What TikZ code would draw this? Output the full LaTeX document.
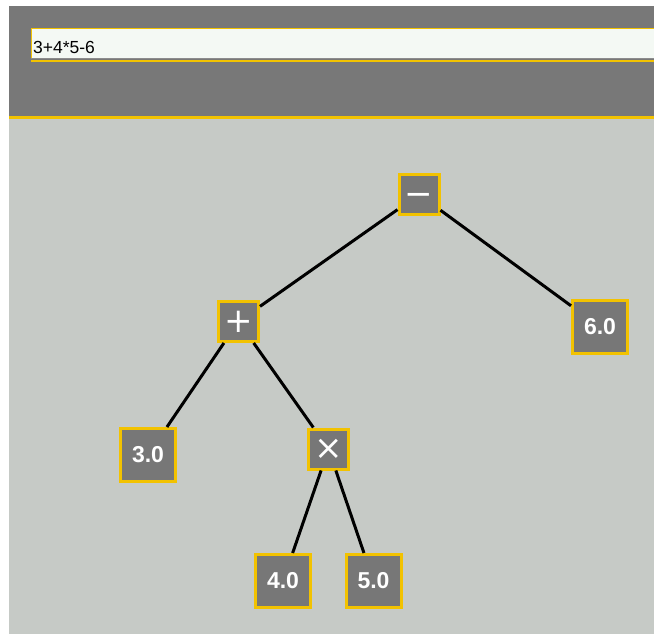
\documentclass[tikz,border=0pt]{standalone}
\usepackage{fontspec}
\setmainfont{Liberation Sans}
\newfontfamily\symf{DejaVu Sans}
\definecolor{hdr}{HTML}{787878}
\definecolor{bgc}{HTML}{C6CAC6}
\definecolor{ylw}{HTML}{F2C200}
\definecolor{fld}{HTML}{F4F9F4}
\definecolor{nodef}{HTML}{777777}
\tikzset{
  numbox/.style={draw=ylw, fill=nodef, line width=3pt, minimum width=55pt, minimum height=53pt, inner sep=0pt,
    text=white, font=\fontsize{23}{23}\selectfont\bfseries},
  opbox/.style={draw=ylw, fill=nodef, line width=3pt, minimum width=40pt, minimum height=40pt, inner sep=0pt,
    text=white, font=\symf\fontsize{34}{34}\selectfont},
  edge/.style={draw=black, line width=3pt}
}
\begin{document}
\begin{tikzpicture}[x=1pt,y=-1pt]
\useasboundingbox (0,0) rectangle (654,634);
\fill[white] (0,0) rectangle (654,634);
\fill[hdr] (9,6) rectangle (654,116);
\fill[ylw] (9,116) rectangle (654,119);
\fill[bgc] (9,119) rectangle (654,634);
% text field
\fill[fld] (31,28) rectangle (654,59);
\draw[ylw, line width=1.5pt] (31.5,59) |- (654,28.5);
\draw[black!45, line width=1pt] (31,58.5) -- (654,58.5);
\draw[ylw, line width=2pt] (31,61) -- (654,61);
\node[anchor=base west, inner sep=0pt, font=\fontsize{17.5}{17.5}\selectfont] (expr) at (33,53.5) {3+4*5-6};
% tree nodes
\node[opbox] (minus) at (419,194.5) {\vphantom{+}−};
\node[opbox] (plus) at (238.5,321.5) {+};
\node[opbox] (times) at (328.5,449) {\vphantom{+}×};
\node[numbox] (n6) at (600,327) {6.0};
\node[numbox] (n3) at (148,455) {3.0};
\node[numbox] (n4) at (283,581) {4.0};
\node[numbox] (n5) at (373.5,581) {5.0};
% edges
\draw[edge] (minus) -- (plus);
\draw[edge] (minus) -- (n6);
\draw[edge] (plus) -- (n3);
\draw[edge] (plus) -- (times);
\draw[edge] (times) -- (n4);
\draw[edge] (times) -- (n5);
\end{tikzpicture}
\end{document}
